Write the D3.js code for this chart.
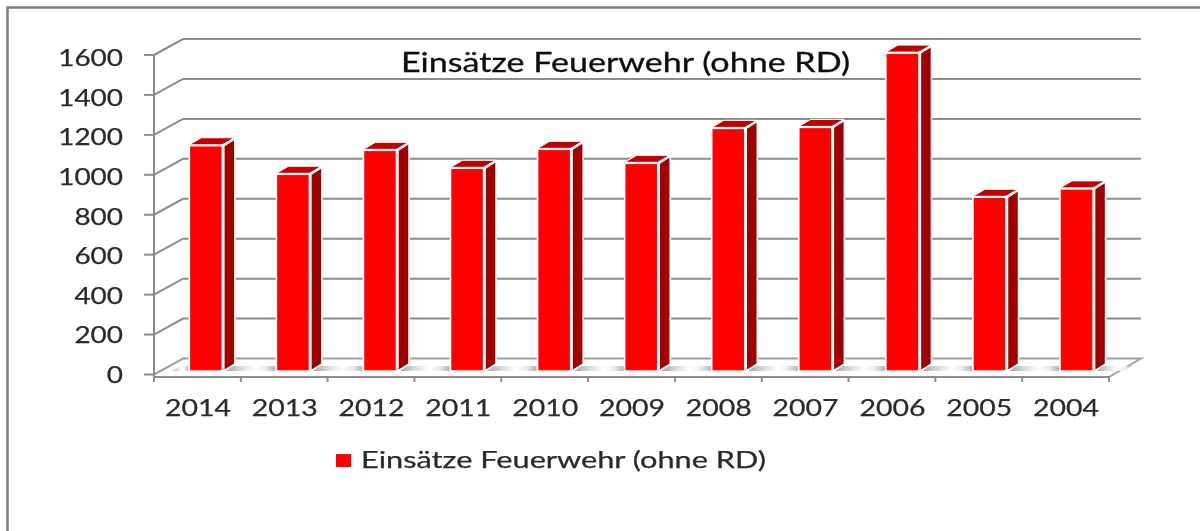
<!DOCTYPE html>
<html>
<head>
<meta charset="utf-8">
<script src="https://cdn.jsdelivr.net/npm/d3@7"></script>
<style>
  html, body { margin: 0; padding: 0; background: #fff; overflow: hidden; }
  text { font-family: Lato, "DejaVu Sans", sans-serif; fill: #2a2a2a; stroke: #2a2a2a; stroke-width: 0.25; }
</style>
</head>
<body>
<svg id="chart" width="1200" height="531"></svg>
<script>
// values
const years = ["2014", "2013", "2012", "2011", "2010", "2009", "2008", "2007", "2006", "2005", "2004"];
const einsaetze = [1128, 985, 1105, 1015, 1110, 1040, 1215, 1220, 1592, 870, 912];
const yTicks = [0, 200, 400, 600, 800, 1000, 1200, 1400, 1600];
const seriesName = "Einsätze Feuerwehr (ohne RD)";

const AXIS_COLOR = "#8c8c8c";
const depth = { x: 29, y: -16 };
const barDepth = { x: 12, y: -7 };

const svg = d3.select("#chart");

// the reference is a soft, upscaled screenshot
const defs = svg.append("defs");
defs.append("filter").attr("id", "soft")
  .attr("x", "-2%").attr("y", "-2%").attr("width", "104%").attr("height", "104%")
  .append("feGaussianBlur").attr("stdDeviation", 0.45);
const floorGrad = defs.append("linearGradient").attr("id", "floorShade");
[[0, "#a4a4a4"], [35, "#dddddd"], [60, "#ffffff"], [80, "#ececec"], [100, "#b4b4b4"]].forEach(([o, c]) => {
  floorGrad.append("stop").attr("offset", o + "%").attr("stop-color", c);
});

const g = svg.append("g").attr("filter", "url(#soft)");

// outer frame, runs off the right and bottom edge
g.append("path")
  .attr("d", "M7.5,540V7.5H1210")
  .attr("fill", "none").attr("stroke", "#808080").attr("stroke-width", 2.5);

const x = d3.scaleBand().domain(years).range([154, 1109]);
const y = d3.scaleLinear().domain([0, 1600]).range([374.5, 55]);
const labelY = d3.scaleLinear().domain([0, 1600]).range([383, 66]);
// bars stand further back on the floor, so their band is slightly shifted
const xBar = d3.scaleBand().domain(years).range([162.3, 1120.1]);
const barW = 33;
const barLeft = (year) => xBar(year) + xBar.bandwidth() / 2 - barW / 2;
const barBase = 371;
const frontY = 377;

// back wall gridlines with their diagonal on the side wall
g.append("g").selectAll("path")
  .data(yTicks.slice(1))
  .join("path")
  .attr("d", (d) => `M154,${y(d)}L${154 + depth.x},${y(d) + depth.y}H1141`)
  .attr("fill", "none").attr("stroke", AXIS_COLOR).attr("stroke-width", 2);

// floor
g.append("path")
  .attr("d", `M154,${y(0)}L${154 + depth.x},${y(0) + depth.y}H1141L1109,${frontY}`)
  .attr("fill", "none").attr("stroke", "#a0a0a0").attr("stroke-width", 2);

// floor shading between the bars
g.append("g").selectAll("path")
  .data(years.concat("end"))
  .join("path")
  .attr("d", (d, i) => {
    const x0 = i === 0 ? 172 : barLeft(years[i - 1]) + barW + 2;
    const x1 = d === "end" ? 1123 : barLeft(d) - 1;
    return `M${x0},${barBase}L${x0 + 9},366H${x1 + (d === "end" ? 9 : 0)}L${x1},${barBase}Z`;
  })
  .attr("fill", "url(#floorShade)");

// bars: side, top, front
const bars = g.append("g").selectAll("g")
  .data(years.map((year, i) => ({ year, value: einsaetze[i] })))
  .join("g")
  .attr("transform", (d) => `translate(${barLeft(d.year)},0)`);

const barTop = (d) => barBase - (y(0) - y(d.value));

bars.append("path")
  .attr("d", (d) => `M${barW + 1.5},${barTop(d)}l${barDepth.x - 1},${barDepth.y}V${barBase + barDepth.y}l${1 - barDepth.x},${-barDepth.y}Z`)
  .attr("fill", "#a00000").attr("stroke", "#fff").attr("stroke-width", 1.5).attr("stroke-linejoin", "round");

bars.append("path")
  .attr("d", (d) => `M0,${barTop(d) - 1}l${barDepth.x},${barDepth.y}h${barW}l${-barDepth.x},${-barDepth.y}Z`)
  .attr("fill", "#c00000").attr("stroke", "#fff").attr("stroke-width", 1).attr("stroke-linejoin", "round");

bars.append("rect")
  .attr("x", 0)
  .attr("width", barW)
  .attr("y", barTop)
  .attr("height", (d) => barBase - barTop(d))
  .attr("fill", "#ff0000").attr("stroke", "#fff").attr("stroke-width", 1.5);

// y axis
const axisY = g.append("g").attr("stroke", AXIS_COLOR).attr("stroke-width", 2);
axisY.append("line").attr("x1", 154).attr("x2", 154).attr("y1", y(1600)).attr("y2", frontY + 5);
axisY.selectAll(".tick").data(yTicks).join("line").attr("class", "tick")
  .attr("x1", 144).attr("x2", 154).attr("y1", (d) => y(d)).attr("y2", (d) => y(d));

g.append("g").selectAll("text")
  .data(yTicks)
  .join("text")
  .attr("x", 123)
  .attr("y", (d) => labelY(d))
  .attr("text-anchor", "end")
  .attr("font-size", 23)
  .attr("textLength", (d) => String(d).length * 16.2)
  .attr("lengthAdjust", "spacingAndGlyphs")
  .text((d) => d);

// x axis
const axisX = g.append("g").attr("stroke", AXIS_COLOR).attr("stroke-width", 2);
axisX.append("line").attr("x1", 154).attr("x2", 1109).attr("y1", frontY).attr("y2", frontY);
axisX.selectAll(".tick").data(years.concat("end")).join("line").attr("class", "tick")
  .attr("x1", (d) => (d === "end" ? 1109 : x(d))).attr("x2", (d) => (d === "end" ? 1109 : x(d)))
  .attr("y1", frontY).attr("y2", frontY + 5);

g.append("g").selectAll("text")
  .data(years)
  .join("text")
  .attr("x", (d) => x(d) + x.bandwidth() / 2 + 0.5)
  .attr("y", 415.5)
  .attr("text-anchor", "middle")
  .attr("font-size", 24)
  .attr("textLength", 66)
  .attr("lengthAdjust", "spacingAndGlyphs")
  .text((d) => d);

// title
g.append("text")
  .attr("x", 401).attr("y", 72)
  .attr("font-size", 26)
  .attr("textLength", 449)
  .attr("lengthAdjust", "spacingAndGlyphs")
  .style("fill", "#111")
  .style("stroke", "#111").style("stroke-width", 0.3)
  .text(seriesName);

// legend
g.append("rect").attr("x", 336).attr("y", 454).attr("width", 15).attr("height", 13).attr("fill", "#ff0000");
g.append("text")
  .attr("x", 361).attr("y", 468)
  .attr("font-size", 23)
  .attr("textLength", 405)
  .attr("lengthAdjust", "spacingAndGlyphs")
  .text(seriesName);
</script>
</body>
</html>
